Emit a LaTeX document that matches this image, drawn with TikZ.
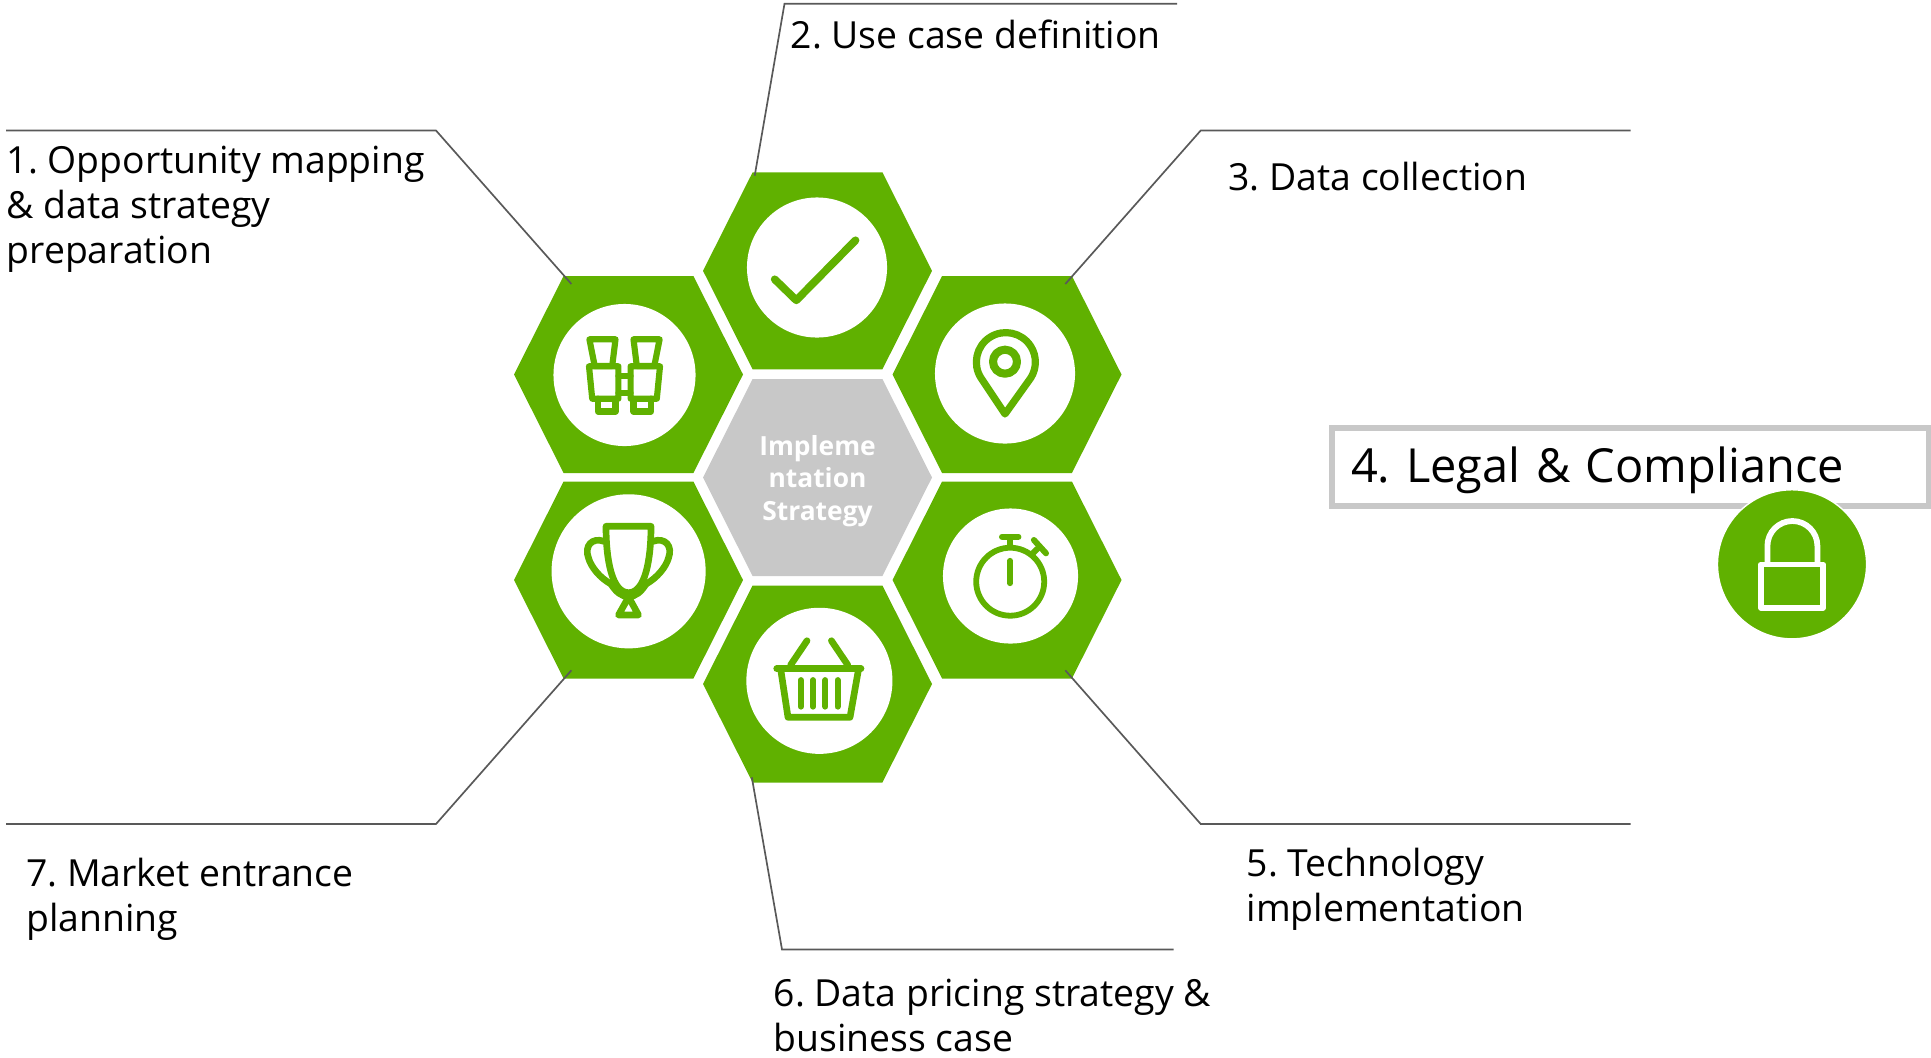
\documentclass[tikz,border=0pt]{standalone}
\usepackage{fontspec}
\setmainfont{Open Sans}
\frenchspacing
\definecolor{hexgreen}{HTML}{60B100}
\definecolor{hexgrey}{HTML}{C8C8C8}
\definecolor{leadgrey}{HTML}{595959}
\tikzset{
  leader/.style={leadgrey,line width=0.48pt},
  disc/.style={circle,fill=white,inner sep=0pt,outer sep=0pt},
  icon/.style={hexgreen,line width=1.9pt,line cap=round,line join=round},
  caption/.style={anchor=north west,inner sep=0pt,align=left,font=\fontsize{10.62}{12.85}\selectfont},
}
\begin{document}
\begin{tikzpicture}[x=0.01cm,y=-0.01cm]
    \useasboundingbox (0,0) rectangle (1931,1057);
    % the seven cells
    \foreach \cname/\cx/\cy/\ccol in {hexbino/628.5/374.5/hexgreen,hexcheck/817.5/270.8/hexgreen,hexpin/1007/374.5/hexgreen,hexcentre/817.5/477.5/hexgrey,hextrophy/628.5/580/hexgreen,hexbasket/817.5/684/hexgreen,hextimer/1007/580/hexgreen}{
      \coordinate (\cname) at (\cx,\cy);
      \fill[\ccol] (\cname) ++(-114.5,0) -- ++(49.6,-98.5) -- ++(129.8,0) -- ++(49.6,98.5) -- ++(-49.6,98.5) -- ++(-129.8,0) -- cycle;
    }
    \node[disc,minimum size=1.42cm] (discbino) at (624.5,375) {};
    \node[disc,minimum size=1.40cm] (disccheck) at (817,267.5) {};
    \node[disc,minimum size=1.40cm] (discpin) at (1005,373.5) {};
    \node[disc,minimum size=1.54cm] (disctrophy) at (628.6,571.3) {};
    \node[disc,minimum size=1.46cm] (discbasket) at (819.4,680.8) {};
    \node[disc,minimum size=1.35cm] (disctimer) at (1010.5,576) {};
    % binoculars
    \foreach \s in {-1,1}{
      \begin{scope}[shift={(624.5,0)},xscale=\s]
        \draw[icon,line width=1.75pt] (-35.1,339.3) -- (-9,339.3) -- (-12.3,366) -- (-29.8,366) -- cycle;
        \draw[icon,line width=1.75pt] (-35.5,366.3) -- (-6.1,366.3) -- (-6.1,398.7) -- (-32.3,398.7) -- cycle;
        \draw[icon,line width=1.75pt] (-26.5,398.7) -- (-26.5,411.5) -- (-9,411.5) -- (-9,398.7);
        \draw[icon,line width=1.75pt] (-6.1,375.7) -- (0,375.7);
        \draw[icon,line width=1.75pt] (-6.1,393) -- (0,393);
      \end{scope}
    }
    % check mark
    \draw[icon,line width=2.2pt] (774.7,279.3) -- (796.3,300.3) -- (855.5,240.3);
    % pin
    \draw[icon,line width=2.05pt] (1005,414) -- (981,378) arc[start angle=147.4,end angle=392.6,radius=29.5] -- cycle;
    \draw[icon,line width=2.3pt] (1005,361.7) circle(12);
    % trophy
    \draw[icon] (606,526.3) -- (651,526.3) .. controls (651,560) and (645,592.7) .. (628.6,592.7) .. controls (612,592.7) and (606,560) .. (606,526.3) -- cycle;
    \draw[icon] (604,541.3) .. controls (592,537) and (584,546) .. (588.5,558) .. controls (591,567) and (600,578) .. (611,584);
    \draw[icon] (653,541.3) .. controls (665,537) and (673,546) .. (668.5,558) .. controls (666,567) and (657,578) .. (646,584);
    \draw[icon] (611,584) .. controls (616,592) and (621,596) .. (628.6,597) .. controls (636,596) and (641,592) .. (646,584);
    \draw[icon] (628.6,597) -- (618.5,615) -- (638.5,615) -- cycle;
    % basket
    \draw[icon] (776.7,668.7) -- (861,668.7);
    \draw[icon] (780.8,670) -- (788,717.3) -- (850,717.3) -- (858.4,670);
    \foreach \bx in {800.8,813,825.3,837.6}{
      \draw[icon,line width=1.65pt] (\bx,680) -- (\bx,706.7);
    }
    \draw[icon] (790.6,665) -- (807,640.7);
    \draw[icon] (847.8,665) -- (831.4,640.7);
    % stopwatch
    \draw[icon,line width=1.65pt] (1010.2,581.7) circle(34);
    \draw[icon,line width=1.6pt] (1010.2,560.7) -- (1010.2,583.3);
    \draw[icon,line width=1.7pt] (1002,536.7) -- (1018.4,536.7);
    \draw[icon,line width=1.7pt] (1010.2,538) -- (1010.2,546.7);
    \draw[icon,line width=1.7pt] (1033.9,540) -- (1046,553.3);
    \draw[icon,line width=1.7pt] (1039.6,546.7) -- (1032.7,553.3);
    % leader lines
    \coordinate (freeone) at (6,130.5);
    \coordinate (bendone) at (436,130.5);
    \coordinate (tipone) at (571.4,284);
    \draw[leader] (freeone) -- (bendone) -- (tipone);
    \coordinate (freetwo) at (1177,3.7);
    \coordinate (bendtwo) at (784.5,3.7);
    \coordinate (tiptwo) at (754.7,175.7);
    \draw[leader] (freetwo) -- (bendtwo) -- (tiptwo);
    \coordinate (freethree) at (1630.5,130.5);
    \coordinate (bendthree) at (1200.7,130.5);
    \coordinate (tipthree) at (1065.3,284);
    \draw[leader] (freethree) -- (bendthree) -- (tipthree);
    \coordinate (freefive) at (1630.5,824);
    \coordinate (bendfive) at (1200.7,824);
    \coordinate (tipfive) at (1065.3,670.3);
    \draw[leader] (freefive) -- (bendfive) -- (tipfive);
    \coordinate (freesix) at (1173.6,949.5);
    \coordinate (bendsix) at (782,949.5);
    \coordinate (tipsix) at (751.8,777.3);
    \draw[leader] (freesix) -- (bendsix) -- (tipsix);
    \coordinate (freeseven) at (6,824);
    \coordinate (bendseven) at (436,824);
    \coordinate (tipseven) at (571.4,670.3);
    \draw[leader] (freeseven) -- (bendseven) -- (tipseven);
    % texts
    \node[caption] (textone) at (6,145) {1. Opportunity mapping\\\& data strategy\\preparation};
    \node[caption] (texttwo) at (790,19) {2. Use case definition};
    \node[caption] (textthree) at (1227.8,161) {3. Data collection};
    \node[caption] (textfive) at (1246,847.5) {5. Technology\\implementation};
    \node[caption] (textsix) at (773,978.5) {6. Data pricing strategy \&\\business case};
    \node[caption] (textseven) at (25.5,857.5) {7. Market entrance\\planning};
    \node[align=center,inner sep=0pt,text=white,font=\fontsize{7.5}{9.15}\selectfont\bfseries] (textcentre) at (817.5,481) {Impleme\\ntation\\Strategy};
    % legal box
    \node[draw=hexgrey,line width=1.7pt,anchor=west,outer sep=0pt,inner xsep=0.195cm,inner ysep=0pt,minimum height=0.78cm,text width=5.58cm,text height=11pt,text depth=1.9pt,align=left,font=\fontsize{13.35}{15}\selectfont] (legal) at (1331.5,466.7) {4. Legal \& Compliance};
    \node[disc,fill=hexgreen,draw=white,line width=0.4pt,minimum size=1.49cm] (disclock) at (1792,564.3) {};
    \draw[white,line width=1.65pt,line join=round] (1761,564.5) rectangle (1823,607.7);
    \draw[white,line width=1.65pt] (1767.4,564.5) -- (1767.4,546) arc[start angle=180,end angle=360,radius=25] -- (1817.4,564.5);
\end{tikzpicture}
\end{document}
